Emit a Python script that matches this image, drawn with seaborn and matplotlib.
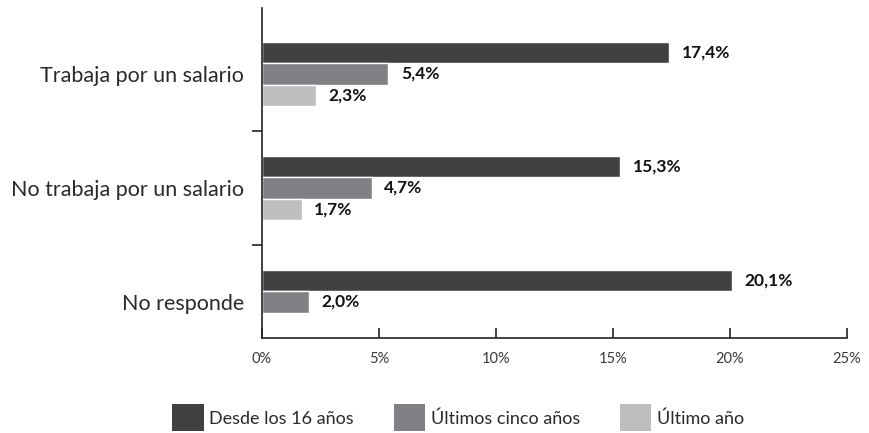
import matplotlib
matplotlib.use("Agg")
import matplotlib.pyplot as plt
from matplotlib.patches import Patch
import numpy as np
import pandas as pd
import seaborn as sns

categories = ["Trabaja por un salario", "No trabaja por un salario", "No responde"]
series_names = ["Desde los 16 años", "Últimos cinco años", "Último año"]
desde_16 = [17.4, 15.3, 20.1]
ultimos_cinco = [5.4, 4.7, 2.0]
ultimo_anio = [2.3, 1.7, np.nan]
x_ticks = [0, 5, 10, 15, 20, 25]
colors = ["#414042", "#808184", "#bcbec0"]

rows = []
for name, vals in zip(series_names, [desde_16, ultimos_cinco, ultimo_anio]):
    for cat, v in zip(categories, vals):
        rows.append({"categoria": cat, "serie": name, "valor": v})
df = pd.DataFrame(rows)

sns.set_theme(style="white")
plt.rcParams["font.family"] = ["Lato", "DejaVu Sans"]

fig = plt.figure(figsize=(8.69, 4.33), dpi=100)
ax = fig.add_axes([262 / 869, 1 - 338 / 433, (847 - 262) / 869, (338 - 8) / 433])

sns.barplot(data=df, y="categoria", x="valor", hue="serie", order=categories,
            hue_order=series_names, palette=colors, orient="h", width=0.57,
            saturation=1, ax=ax, legend=False)

ax.set_xlim(0, 25)
ax.set_ylim(2 + 36 / 114, -66 / 114)
ax.set_xticks(x_ticks)
ax.set_xticklabels([f"{t}%" for t in x_ticks], fontsize=10.5, color="#3a3a3a")
ax.set_yticks(range(len(categories)))
ax.set_yticklabels(categories, fontsize=15.5, color="#2a2a2a")
ax.set_xlabel("")
ax.set_ylabel("")

# tick marks only at group boundaries on the category axis
ax.set_yticks([0.5, 1.5], minor=True)
ax.tick_params(axis="y", which="major", length=0, pad=13)
ax.tick_params(axis="y", which="minor", length=7, width=1.2, color="#222222", direction="out", left=True)
ax.tick_params(axis="x", which="major", length=7, width=1.2, color="#222222", direction="in", bottom=True, pad=10)

for side in ["top", "right"]:
    ax.spines[side].set_visible(False)
for side in ["left", "bottom"]:
    ax.spines[side].set_color("#222222")
    ax.spines[side].set_linewidth(1.2)

for container in ax.containers:
    labels = []
    for bar in container:
        w = bar.get_width()
        labels.append("" if np.isnan(w) else f"{w:.1f}%".replace(".", ","))
    ax.bar_label(container, labels=labels, padding=9, fontsize=12.5, fontweight="bold", color="#111111")

handles = [Patch(facecolor=c, edgecolor="none") for c in colors]
fig.legend(handles, series_names, loc="center", bbox_to_anchor=(0.527, 0.035), ncol=3,
           frameon=False, prop={"size": 13},
           handlelength=1.75, handleheight=1.9, handletextpad=0.3, columnspacing=2.2)
for t in fig.legends[0].get_texts():
    t.set_color("#2a2a2a")

fig.savefig("out.png", dpi=100)
